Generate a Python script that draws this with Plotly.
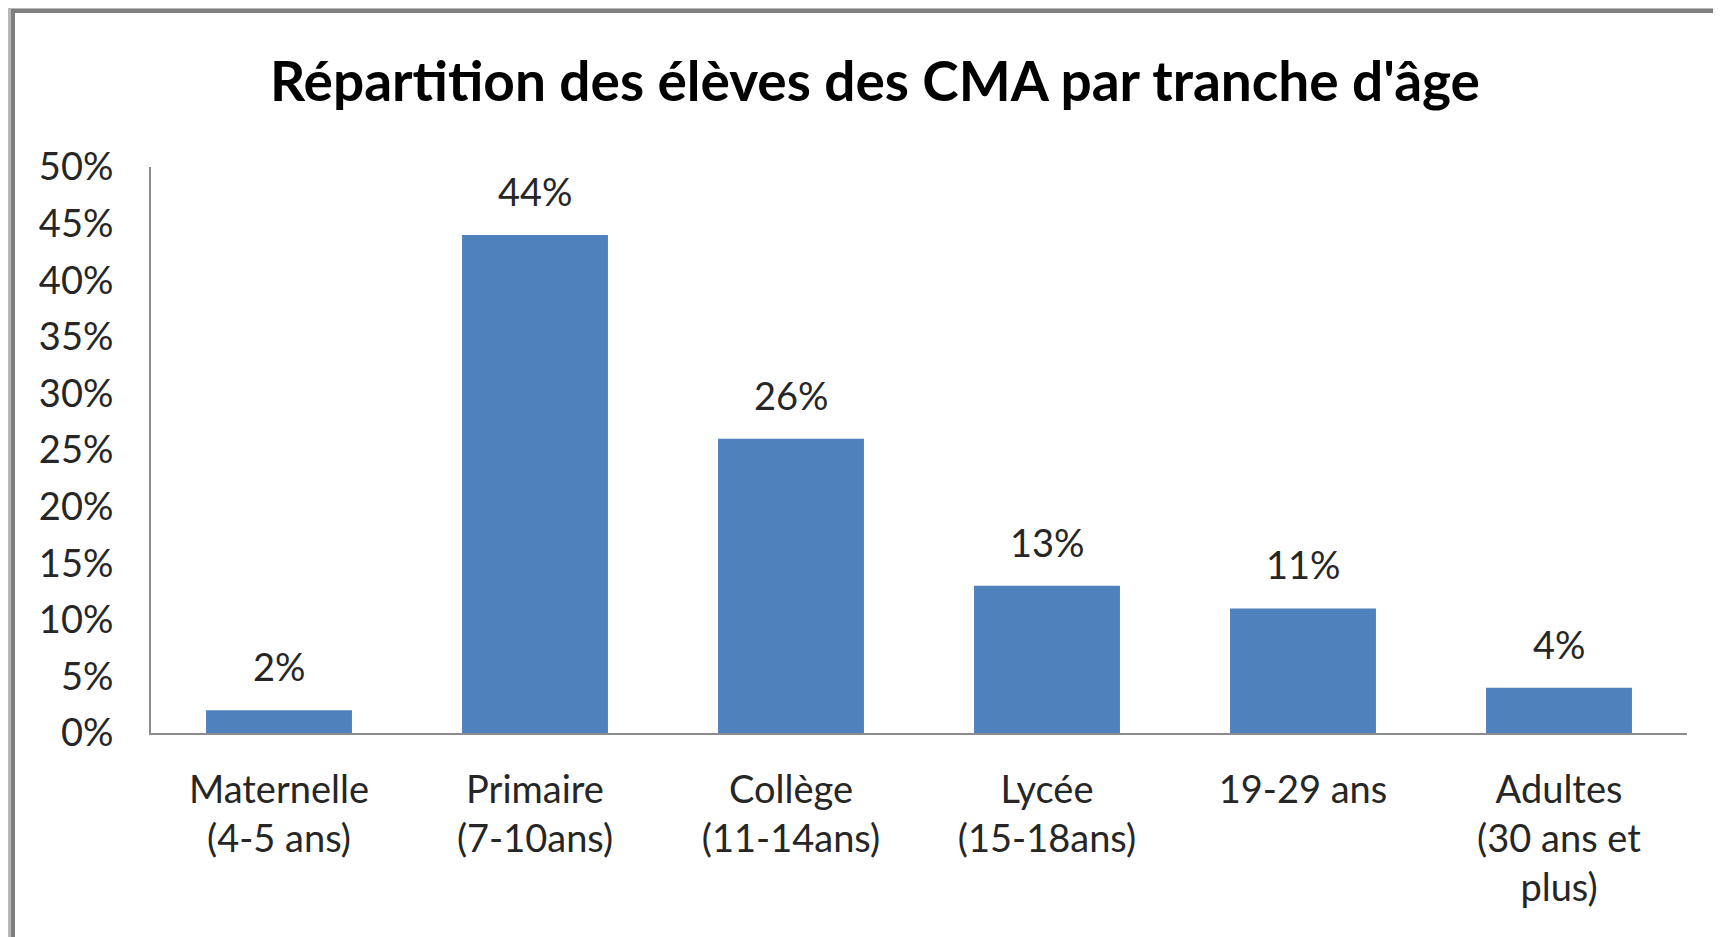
import plotly.graph_objects as go

categories = ["Maternelle<br>(4-5 ans)", "Primaire<br>(7-10ans)", "Collège<br>(11-14ans)",
              "Lycée<br>(15-18ans)", "19-29 ans", "Adultes<br>(30 ans et<br>plus)"]
values = [0.02, 0.44, 0.26, 0.13, 0.11, 0.04]
value_labels = ["2%", "44%", "26%", "13%", "11%", "4%"]
y_ticks = [0, 0.05, 0.10, 0.15, 0.20, 0.25, 0.30, 0.35, 0.40, 0.45, 0.50]
y_tick_labels = ["0%", "5%", "10%", "15%", "20%", "25%", "30%", "35%", "40%", "45%", "50%"]
title_text = "Répartition des élèves des CMA par tranche d'âge"

# page is offset by the default 8px body margin
OFF = 8
W, H = 1721 - OFF, 937 - OFF
L, R, T, B = 151 - OFF, 34, 167 - OFF, 204
pw, ph = W - L - R, H - T - B

def px(x):
    return (x - OFF - L) / pw

def py(y):
    return (H - B - (y - OFF)) / ph

FONT = "Lato"
TXT = "#262626"
FS = 38

fig = go.Figure()
fig.add_trace(go.Bar(
    x=categories, y=values, marker=dict(color="#4F81BD", line=dict(width=0)),
    width=0.57, hoverinfo="skip",
))

for c, v, lab in zip(categories, values, value_labels):
    fig.add_annotation(x=c, y=v, text=lab, showarrow=False, yanchor="bottom",
                       yshift=19, font=dict(family=FONT, size=FS, color=TXT))

shapes = []
grays = ["#f4f4f4", "#ececec", "#e2e2e2", "#d6d6d6", "#c8c8c8", "#b8b8b8"]
for i, g in enumerate(grays):
    off = 11 - i * 2
    shapes.append(dict(type="rect", xref="paper", yref="paper", layer="below",
                       x0=px(off), x1=px(1721 + 20), y0=py(937 + 20), y1=py(off - 2),
                       fillcolor=g, line=dict(width=0)))
shapes.append(dict(type="rect", xref="paper", yref="paper", layer="below",
                   x0=px(13), x1=px(1721 + 20), y0=py(937 + 20), y1=py(11),
                   fillcolor="white", line=dict(color="#7f7f7f", width=4)))
fig.update_layout(shapes=shapes)

fig.update_layout(
    width=W, height=H,
    margin=dict(l=L, r=R, t=T, b=B, pad=0),
    paper_bgcolor="#f6f6f6", plot_bgcolor="rgba(0,0,0,0)",
    showlegend=False,
    bargap=0.43,
    title=dict(text="<b>" + title_text + "</b>", x=(875 - OFF) / W, xref="container", xanchor="center",
               y=1 - (82 - OFF) / H, yref="container", yanchor="middle",
               font=dict(family=FONT, size=55, color="#000000")),
    xaxis=dict(showline=True, linecolor="#8c8c8c", linewidth=2, ticks="", showgrid=False,
               tickfont=dict(family=FONT, size=FS, color=TXT), ticklabelstandoff=22,
               fixedrange=True),
    yaxis=dict(range=[0, 0.5], tickvals=y_ticks, ticktext=y_tick_labels,
               showline=True, linecolor="#8c8c8c", linewidth=2, ticks="", showgrid=False,
               zeroline=False, tickfont=dict(family=FONT, size=FS, color=TXT),
               ticklabelstandoff=28, fixedrange=True),
)

fig.write_html("out.html", config={"displayModeBar": False})
